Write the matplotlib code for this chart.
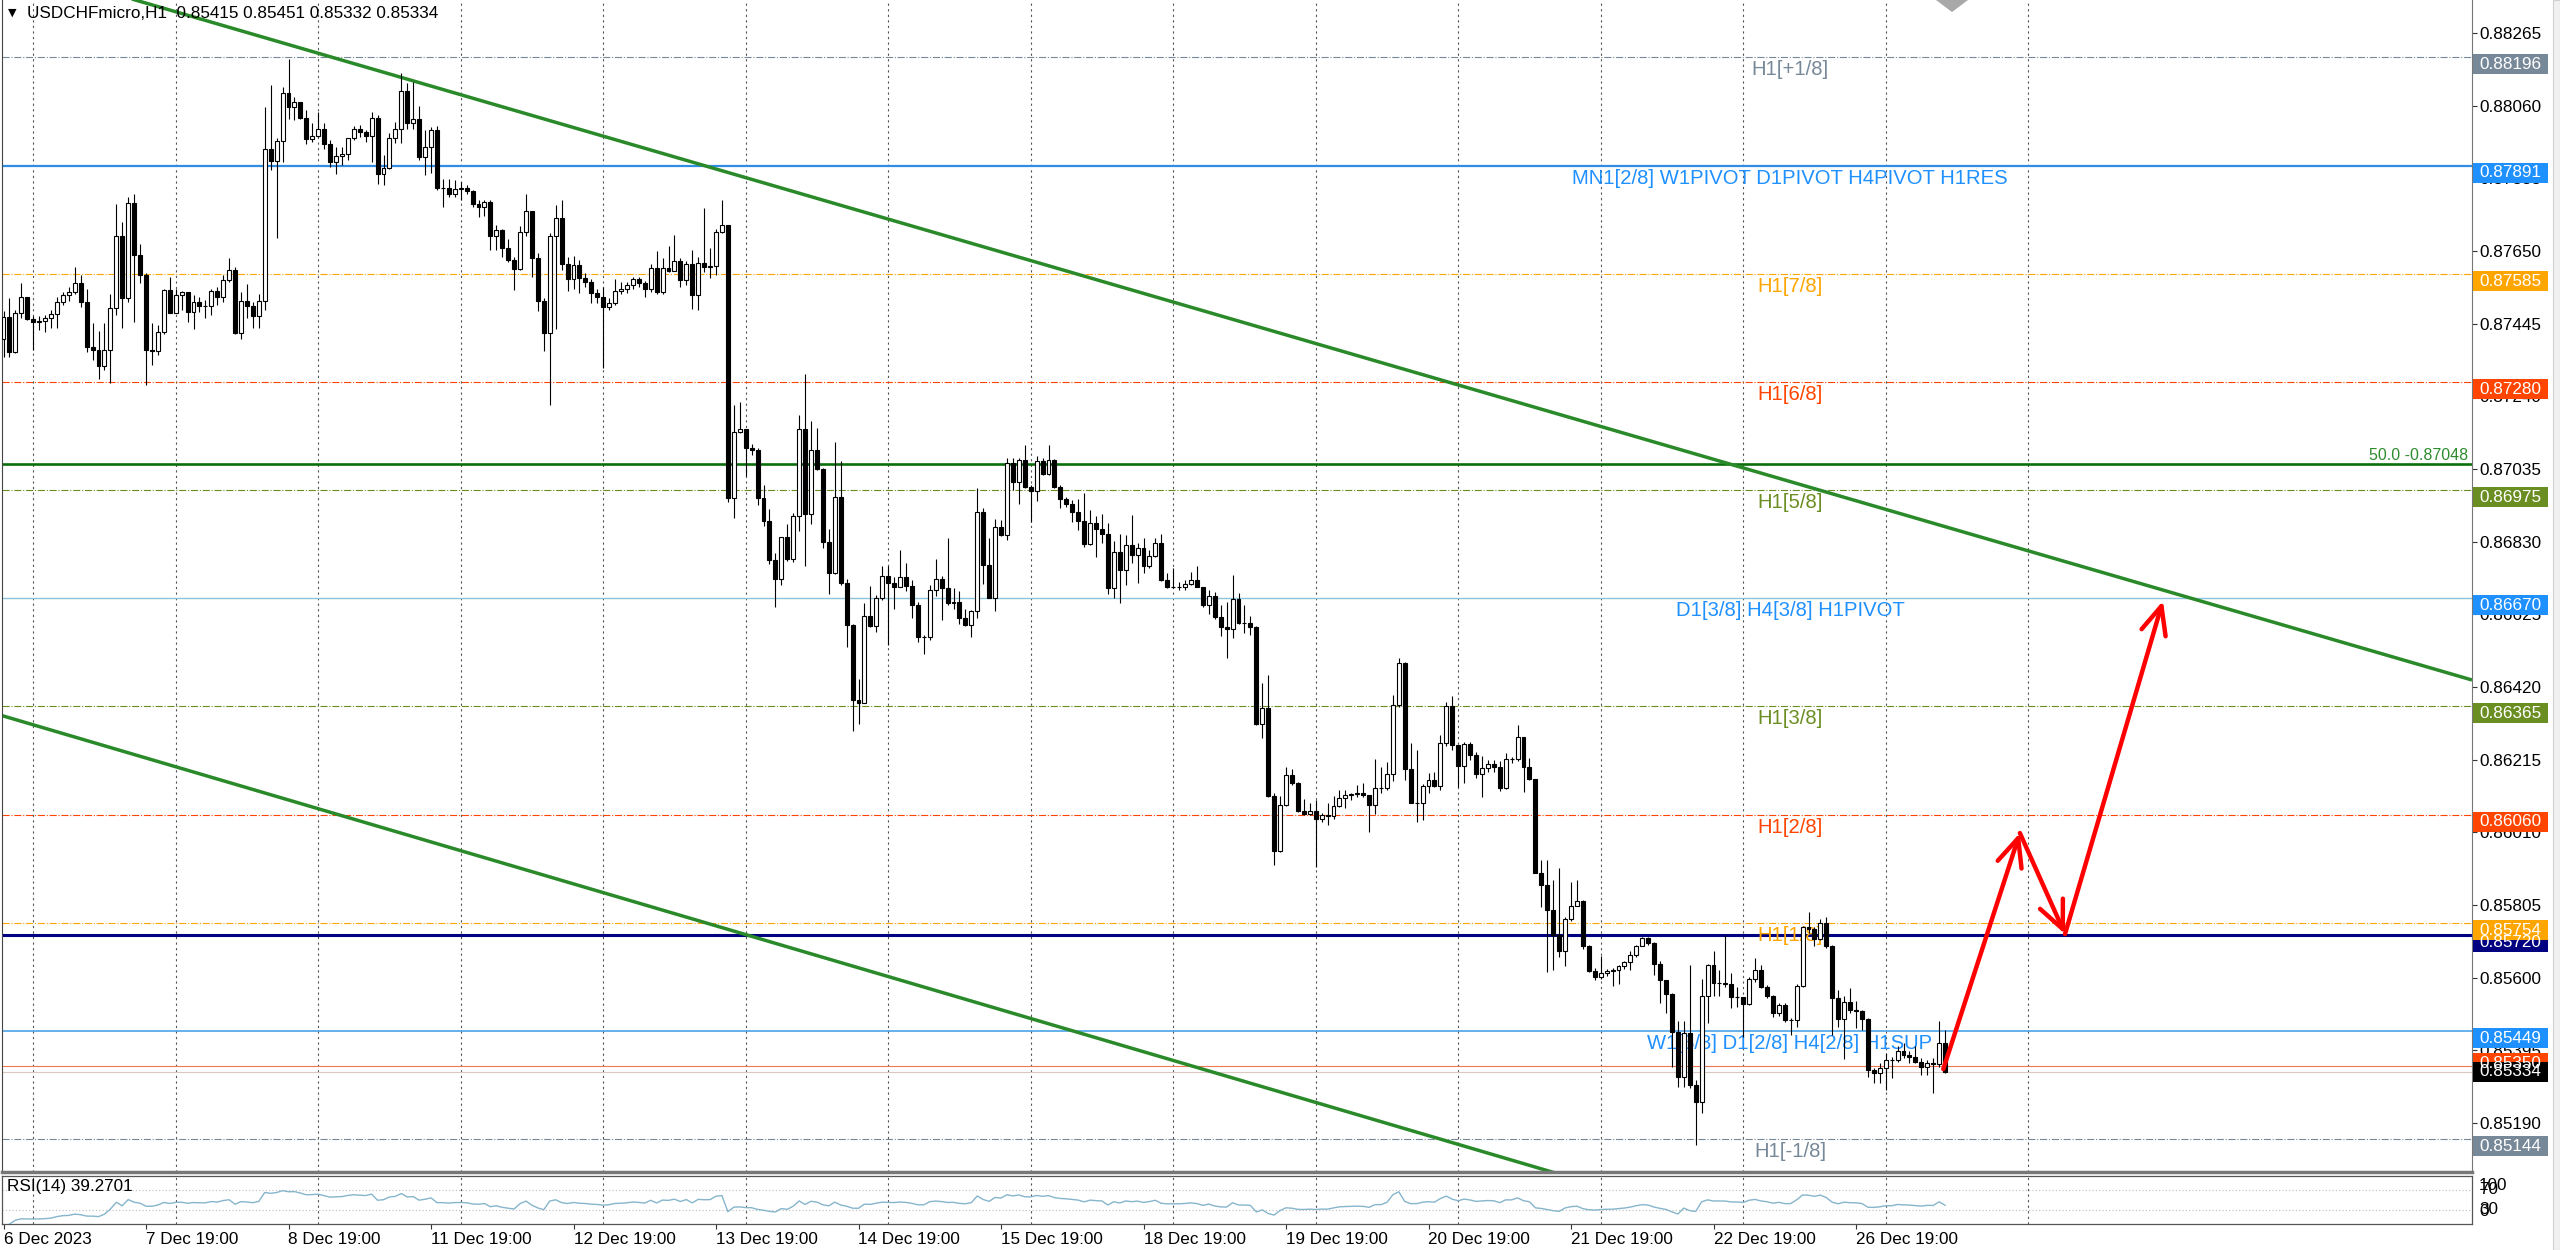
import matplotlib
matplotlib.use('Agg')
import matplotlib.pyplot as plt
import matplotlib.transforms as mtransforms
from matplotlib.patches import Rectangle, Polygon
import numpy as np

plt.rcParams['font.family'] = ['Liberation Sans', 'DejaVu Sans']

# ---------------- data ----------------
header = "USDCHFmicro,H1  0.85415 0.85451 0.85332 0.85334"
rsi_caption = "RSI(14) 39.2701"

first_open = 0.87403
closes = [
    0.87464, 0.87366, 0.87474, 0.87519, 0.87457, 0.87450, 0.87453, 0.87460, 0.87472, 0.87507,
    0.87527, 0.87533, 0.87560, 0.87505, 0.87378, 0.87372, 0.87325, 0.87372, 0.87488, 0.87693,
    0.87516, 0.87786, 0.87638, 0.87582, 0.87372, 0.87369, 0.87422, 0.87540, 0.87476, 0.87526,
    0.87533, 0.87479, 0.87507, 0.87495, 0.87495, 0.87538, 0.87519, 0.87568, 0.87596, 0.87419,
    0.87509, 0.87495, 0.87466, 0.87509, 0.87939, 0.87905, 0.87961, 0.88095, 0.88057, 0.88069,
    0.88024, 0.87965, 0.87975, 0.87993, 0.87951, 0.87902, 0.87918, 0.87925, 0.87970, 0.87993,
    0.87985, 0.87975, 0.88024, 0.87867, 0.87883, 0.87970, 0.87993, 0.88101, 0.88010, 0.88021,
    0.87914, 0.87944, 0.87991, 0.87827, 0.87827, 0.87811, 0.87825, 0.87827, 0.87819, 0.87784,
    0.87775, 0.87789, 0.87692, 0.87709, 0.87659, 0.87626, 0.87599, 0.87704, 0.87764, 0.87630,
    0.87510, 0.87419, 0.87691, 0.87743, 0.87614, 0.87570, 0.87610, 0.87573, 0.87563, 0.87532,
    0.87521, 0.87492, 0.87504, 0.87536, 0.87542, 0.87553, 0.87570, 0.87560, 0.87542, 0.87602,
    0.87534, 0.87602, 0.87594, 0.87623, 0.87567, 0.87612, 0.87525, 0.87615, 0.87605, 0.87609,
    0.87704, 0.87722, 0.86954, 0.87139, 0.87149, 0.87093, 0.87090, 0.86954, 0.86888, 0.86779,
    0.86724, 0.86842, 0.86781, 0.86901, 0.87147, 0.86907, 0.87090, 0.87034, 0.86828, 0.86741,
    0.86957, 0.86713, 0.86595, 0.86382, 0.86374, 0.86619, 0.86593, 0.86671, 0.86734, 0.86713,
    0.86703, 0.86731, 0.86706, 0.86651, 0.86560, 0.86560, 0.86695, 0.86724, 0.86698, 0.86656,
    0.86661, 0.86614, 0.86595, 0.86633, 0.86915, 0.86764, 0.86672, 0.86872, 0.86849, 0.87051,
    0.86997, 0.87060, 0.86983, 0.86974, 0.87058, 0.87022, 0.87060, 0.86985, 0.86950, 0.86936,
    0.86914, 0.86889, 0.86823, 0.86882, 0.86865, 0.86853, 0.86698, 0.86802, 0.86750, 0.86820,
    0.86792, 0.86811, 0.86762, 0.86789, 0.86827, 0.86722, 0.86701, 0.86703, 0.86701, 0.86710,
    0.86723, 0.86703, 0.86651, 0.86676, 0.86618, 0.86590, 0.86585, 0.86667, 0.86601, 0.86601,
    0.86590, 0.86317, 0.86362, 0.86112, 0.85957, 0.86087, 0.86172, 0.86148, 0.86071, 0.86061,
    0.86071, 0.86049, 0.86059, 0.86056, 0.86084, 0.86108, 0.86115, 0.86118, 0.86122, 0.86115,
    0.86087, 0.86134, 0.86134, 0.86175, 0.86369, 0.86488, 0.86190, 0.86093, 0.86093, 0.86140,
    0.86157, 0.86140, 0.86263, 0.86366, 0.86256, 0.86197, 0.86259, 0.86228, 0.86175, 0.86191,
    0.86203, 0.86194, 0.86134, 0.86216, 0.86216, 0.86278, 0.86194, 0.86160, 0.85896, 0.85862,
    0.85791, 0.85721, 0.85674, 0.85765, 0.85802, 0.85815, 0.85688, 0.85620, 0.85601, 0.85614,
    0.85620, 0.85622, 0.85633, 0.85645, 0.85664, 0.85690, 0.85712, 0.85697, 0.85638, 0.85594,
    0.85554, 0.85448, 0.85321, 0.85445, 0.85298, 0.85250, 0.85549, 0.85636, 0.85584, 0.85586,
    0.85582, 0.85545, 0.85545, 0.85526, 0.85596, 0.85622, 0.85573, 0.85549, 0.85500, 0.85523,
    0.85481, 0.85481, 0.85577, 0.85742, 0.85737, 0.85708, 0.85754, 0.85688, 0.85542, 0.85483,
    0.85530, 0.85510, 0.85507, 0.85483, 0.85340, 0.85330, 0.85344, 0.85368, 0.85368, 0.85394,
    0.85382, 0.85377, 0.85363, 0.85347, 0.85360, 0.85357, 0.85415, 0.85334,
]
highs = [
    0.87480, 0.87516, 0.87483, 0.87559, 0.87521, 0.87466, 0.87466, 0.87469, 0.87483, 0.87521,
    0.87533, 0.87549, 0.87606, 0.87582, 0.87544, 0.87446, 0.87424, 0.87446, 0.87530, 0.87782,
    0.87732, 0.87801, 0.87812, 0.87671, 0.87587, 0.87446, 0.87441, 0.87544, 0.87577, 0.87544,
    0.87538, 0.87535, 0.87526, 0.87521, 0.87512, 0.87544, 0.87549, 0.87582, 0.87629, 0.87606,
    0.87535, 0.87557, 0.87505, 0.87530, 0.88057, 0.88118, 0.87968, 0.88113, 0.88193, 0.88085,
    0.88071, 0.88048, 0.88010, 0.88043, 0.88010, 0.87963, 0.87944, 0.87944, 0.87970, 0.88002,
    0.88005, 0.87991, 0.88043, 0.88033, 0.87921, 0.87984, 0.88015, 0.88151, 0.88125, 0.88127,
    0.88059, 0.87991, 0.87999, 0.88002, 0.87852, 0.87852, 0.87850, 0.87845, 0.87836, 0.87822,
    0.87794, 0.87794, 0.87794, 0.87723, 0.87711, 0.87685, 0.87633, 0.87720, 0.87811, 0.87764,
    0.87643, 0.87518, 0.87701, 0.87779, 0.87795, 0.87633, 0.87636, 0.87626, 0.87588, 0.87570,
    0.87544, 0.87549, 0.87518, 0.87570, 0.87563, 0.87562, 0.87576, 0.87576, 0.87565, 0.87612,
    0.87651, 0.87630, 0.87664, 0.87696, 0.87630, 0.87623, 0.87654, 0.87633, 0.87772, 0.87659,
    0.87711, 0.87793, 0.87706, 0.87215, 0.87225, 0.87145, 0.87105, 0.87095, 0.86990, 0.86922,
    0.86797, 0.86844, 0.86880, 0.86912, 0.87186, 0.87304, 0.87170, 0.87152, 0.87037, 0.86865,
    0.87110, 0.87058, 0.86724, 0.86598, 0.86442, 0.86656, 0.86706, 0.86679, 0.86760, 0.86760,
    0.86731, 0.86807, 0.86769, 0.86721, 0.86661, 0.86567, 0.86708, 0.86781, 0.86734, 0.86839,
    0.86698, 0.86692, 0.86640, 0.86637, 0.86980, 0.86924, 0.86839, 0.86894, 0.86891, 0.87065,
    0.87065, 0.87065, 0.87102, 0.86990, 0.87071, 0.87065, 0.87102, 0.87062, 0.86990, 0.86955,
    0.86947, 0.86949, 0.86968, 0.86919, 0.86902, 0.86908, 0.86882, 0.86833, 0.86853, 0.86849,
    0.86905, 0.86825, 0.86839, 0.86806, 0.86839, 0.86853, 0.86742, 0.86755, 0.86717, 0.86723,
    0.86745, 0.86762, 0.86703, 0.86695, 0.86689, 0.86651, 0.86660, 0.86736, 0.86684, 0.86651,
    0.86620, 0.86592, 0.86430, 0.86454, 0.86120, 0.86112, 0.86194, 0.86190, 0.86153, 0.86103,
    0.86092, 0.86101, 0.86065, 0.86092, 0.86112, 0.86129, 0.86129, 0.86122, 0.86143, 0.86150,
    0.86115, 0.86216, 0.86195, 0.86209, 0.86397, 0.86501, 0.86491, 0.86261, 0.86242, 0.86146,
    0.86176, 0.86181, 0.86284, 0.86378, 0.86394, 0.86251, 0.86266, 0.86266, 0.86238, 0.86226,
    0.86214, 0.86214, 0.86210, 0.86233, 0.86222, 0.86313, 0.86280, 0.86219, 0.86160, 0.85932,
    0.85932, 0.85876, 0.85909, 0.85772, 0.85871, 0.85876, 0.85819, 0.85692, 0.85627, 0.85661,
    0.85624, 0.85627, 0.85636, 0.85648, 0.85676, 0.85692, 0.85716, 0.85714, 0.85702, 0.85648,
    0.85594, 0.85556, 0.85479, 0.85479, 0.85636, 0.85312, 0.85596, 0.85639, 0.85674, 0.85622,
    0.85721, 0.85612, 0.85575, 0.85533, 0.85603, 0.85655, 0.85636, 0.85580, 0.85551, 0.85528,
    0.85528, 0.85485, 0.85582, 0.85746, 0.85786, 0.85742, 0.85765, 0.85772, 0.85692, 0.85564,
    0.85547, 0.85570, 0.85533, 0.85509, 0.85485, 0.85344, 0.85359, 0.85387, 0.85377, 0.85406,
    0.85415, 0.85394, 0.85406, 0.85373, 0.85368, 0.85373, 0.85479, 0.85451,
]
lows = [
    0.87352, 0.87352, 0.87361, 0.87460, 0.87455, 0.87370, 0.87427, 0.87422, 0.87434, 0.87432,
    0.87499, 0.87510, 0.87530, 0.87493, 0.87366, 0.87342, 0.87290, 0.87314, 0.87278, 0.87469,
    0.87432, 0.87507, 0.87450, 0.87560, 0.87272, 0.87328, 0.87356, 0.87417, 0.87474, 0.87479,
    0.87483, 0.87450, 0.87429, 0.87479, 0.87462, 0.87469, 0.87497, 0.87507, 0.87563, 0.87417,
    0.87403, 0.87460, 0.87434, 0.87432, 0.87483, 0.87878, 0.87686, 0.87902, 0.88021, 0.88019,
    0.88021, 0.87952, 0.87958, 0.87972, 0.87939, 0.87888, 0.87866, 0.87892, 0.87908, 0.87963,
    0.87972, 0.87958, 0.87902, 0.87839, 0.87836, 0.87880, 0.87954, 0.87955, 0.87993, 0.87994,
    0.87906, 0.87864, 0.87869, 0.87822, 0.87775, 0.87803, 0.87803, 0.87794, 0.87812, 0.87775,
    0.87747, 0.87748, 0.87654, 0.87654, 0.87633, 0.87619, 0.87539, 0.87596, 0.87691, 0.87576,
    0.87481, 0.87367, 0.87215, 0.87429, 0.87596, 0.87536, 0.87544, 0.87532, 0.87549, 0.87502,
    0.87502, 0.87319, 0.87484, 0.87497, 0.87530, 0.87532, 0.87544, 0.87549, 0.87521, 0.87534,
    0.87529, 0.87529, 0.87591, 0.87594, 0.87549, 0.87555, 0.87487, 0.87484, 0.87591, 0.87573,
    0.87581, 0.87701, 0.86943, 0.86896, 0.87137, 0.87016, 0.87074, 0.86933, 0.86875, 0.86766,
    0.86647, 0.86708, 0.86776, 0.86773, 0.86860, 0.86760, 0.86880, 0.87032, 0.86813, 0.86682,
    0.86739, 0.86708, 0.86532, 0.86295, 0.86316, 0.86374, 0.86588, 0.86574, 0.86666, 0.86539,
    0.86640, 0.86708, 0.86692, 0.86614, 0.86546, 0.86512, 0.86553, 0.86677, 0.86609, 0.86651,
    0.86640, 0.86598, 0.86591, 0.86562, 0.86614, 0.86710, 0.86670, 0.86635, 0.86846, 0.86834,
    0.86976, 0.86936, 0.86980, 0.86886, 0.86945, 0.87018, 0.87018, 0.86980, 0.86924, 0.86928,
    0.86886, 0.86863, 0.86814, 0.86820, 0.86787, 0.86825, 0.86682, 0.86670, 0.86656, 0.86708,
    0.86769, 0.86712, 0.86742, 0.86755, 0.86787, 0.86720, 0.86698, 0.86698, 0.86695, 0.86693,
    0.86708, 0.86701, 0.86646, 0.86625, 0.86613, 0.86564, 0.86503, 0.86557, 0.86599, 0.86571,
    0.86566, 0.86313, 0.86275, 0.86110, 0.85918, 0.85955, 0.86084, 0.86143, 0.86068, 0.86059,
    0.86059, 0.85912, 0.86040, 0.86030, 0.86049, 0.86082, 0.86080, 0.86101, 0.86110, 0.86110,
    0.86012, 0.86063, 0.86122, 0.86129, 0.86155, 0.86364, 0.86159, 0.86092, 0.86040, 0.86045,
    0.86120, 0.86139, 0.86129, 0.86253, 0.86242, 0.86139, 0.86149, 0.86214, 0.86163, 0.86111,
    0.86181, 0.86179, 0.86128, 0.86132, 0.86205, 0.86210, 0.86125, 0.86158, 0.85895, 0.85798,
    0.85617, 0.85622, 0.85659, 0.85634, 0.85761, 0.85801, 0.85682, 0.85617, 0.85594, 0.85596,
    0.85605, 0.85576, 0.85582, 0.85624, 0.85622, 0.85659, 0.85688, 0.85692, 0.85608, 0.85528,
    0.85500, 0.85349, 0.85291, 0.85291, 0.85288, 0.85128, 0.85217, 0.85471, 0.85547, 0.85547,
    0.85575, 0.85514, 0.85518, 0.85434, 0.85523, 0.85589, 0.85570, 0.85542, 0.85488, 0.85492,
    0.85476, 0.85438, 0.85461, 0.85573, 0.85725, 0.85688, 0.85706, 0.85683, 0.85438, 0.85462,
    0.85370, 0.85500, 0.85457, 0.85453, 0.85321, 0.85302, 0.85302, 0.85283, 0.85316, 0.85363,
    0.85373, 0.85360, 0.85359, 0.85326, 0.85326, 0.85276, 0.85349, 0.85332,
]

date_labels = ["6 Dec 2023", "7 Dec 19:00", "8 Dec 19:00", "11 Dec 19:00", "12 Dec 19:00",
               "13 Dec 19:00", "14 Dec 19:00", "15 Dec 19:00", "18 Dec 19:00", "19 Dec 19:00",
               "20 Dec 19:00", "21 Dec 19:00", "22 Dec 19:00", "26 Dec 19:00"]
price_ticks = [0.88265, 0.88060, 0.87855, 0.87650, 0.87445, 0.87240, 0.87035, 0.86830,
               0.86625, 0.86420, 0.86215, 0.86010, 0.85805, 0.85600, 0.85395, 0.85190]

# Murrey / pivot levels
level_prices = [0.88196, 0.87891, 0.87585, 0.87280, 0.86975, 0.86670, 0.86365, 0.86060,
                0.85754, 0.85449, 0.85144]
level_texts = ["H1[+1/8]", "MN1[2/8] W1PIVOT D1PIVOT H4PIVOT H1RES", "H1[7/8]", "H1[6/8]",
               "H1[5/8]", "D1[3/8] H4[3/8] H1PIVOT", "H1[3/8]", "H1[2/8]", "H1[1/8]",
               "W1[3/8] D1[2/8] H4[2/8] H1SUP", "H1[-1/8]"]
fib_price = 0.87048
fib_text = "50.0 -0.87048"
support_price = 0.85720
extra_price = 0.85350
bid_price = 0.85334

# trend channel anchors (bar index, price)
upper_trend = [(45.4, 0.88245), (415.7, 0.86440)]
lower_trend = [(-0.6, 0.86341), (241.9, 0.85145)]
# hand-drawn forecast path (bar index, price)
forecast = [(326.7, 0.85342), (339.6, 0.86008), (347.2, 0.85723), (363.7, 0.86663)]

# ---------------- styles ----------------
GRAY = '#778899'
BLUE = '#1E90FF'
ORANGE = '#FFA500'
ORED = '#FF4500'
OLIVE = '#6B8E23'
level_colors = [GRAY, BLUE, ORANGE, ORED, OLIVE, BLUE, OLIVE, ORED, ORANGE, BLUE, GRAY]
line_colors = [GRAY, '#2f8de4', ORANGE, ORED, OLIVE, '#8ec3df', OLIVE, ORED, ORANGE, '#3a9be5', GRAY]
line_styles = ['-.', '-', '-.', '-.', '-.', '-', '-.', '-.', '-.', '-', '-.']
line_widths = [0.8, 1.6, 0.8, 0.8, 0.8, 1.0, 0.8, 0.8, 0.8, 1.1, 0.8]

W, H = 2560, 1250
PPU = 35447.0           # pixels per price unit
BAR = 5.9375            # pixels per bar
X0 = 3.5                # pixel of bar 0
L_PX, R_PX = 2, 2472
MAIN_BOT = 1172
RSI_TOP, RSI_BOT = 1176, 1224
FS = 12.3

fig = plt.figure(figsize=(W / 100, H / 100), dpi=100)
fig.patch.set_facecolor('white')

ax = fig.add_axes([L_PX / W, (H - MAIN_BOT) / H, (R_PX - L_PX) / W, MAIN_BOT / H])
axr = fig.add_axes([L_PX / W, (H - RSI_BOT) / H, (R_PX - L_PX) / W, (RSI_BOT - RSI_TOP) / H])

xlim = ((L_PX - X0) / BAR, (R_PX - X0) / BAR)
ylim = (0.88265 - (MAIN_BOT - 33) / PPU, 0.88265 + 33 / PPU)
ax.set_xlim(xlim)
ax.set_ylim(ylim)
axr.set_xlim(xlim)
axr.set_ylim(0, 100)

n = len(closes)
x = np.arange(n)
opens = np.array([first_open] + closes[:-1])
c = np.array(closes)
hi = np.maximum(np.array(highs), np.maximum(opens, c))
lo = np.minimum(np.array(lows), np.minimum(opens, c))

# vertical day grid (only up to the day after the last bar)
for k in range(15):
    gx = 5 + 24 * k
    for a in (ax, axr):
        a.axvline(gx, color='#555555', lw=0.8, ls=(0, (2, 3)), zorder=0.5)

# level lines + labels
label_x = (1790 - X0) / BAR
for p, t, tc, lc, ls, lw in zip(level_prices, level_texts, level_colors, line_colors,
                                 line_styles, line_widths):
    ax.axhline(p, color=lc, ls=ls, lw=lw, zorder=1)
    ax.annotate(t, xy=(label_x, p), xytext=(0, -3), textcoords='offset pixels',
                ha='center', va='top', color=tc, fontsize=14.6, zorder=1.5)

ax.axhline(fib_price, color='#0b6e0b', lw=1.9, zorder=1)
ax.annotate(fib_text, xy=(1.0, fib_price), xycoords=('axes fraction', 'data'),
            xytext=(-4, 1), textcoords='offset pixels', ha='right', va='bottom',
            color='#2e8b2e', fontsize=11.5, zorder=1.5)
ax.axhline(support_price, color='#000080', lw=2.2, zorder=1)
ax.axhline(extra_price, color='#f07850', lw=0.8, zorder=1)
ax.axhline(bid_price, color='#d8c8c0', lw=0.8, zorder=1)

# trend channel (rays, clipped by the panel)
for (xa, ya), (xb, yb) in (upper_trend, lower_trend):
    slope = (yb - ya) / (xb - xa)
    xs = np.array([xlim[0], xlim[1]])
    ax.plot(xs, ya + slope * (xs - xa), color='#2a8a2a', lw=2.5, zorder=2,
            solid_capstyle='butt')

# candles
ax.vlines(x, lo, hi, color='black', lw=0.8, zorder=3)
body_lo = np.minimum(opens, c)
body_h = np.maximum(np.abs(c - opens), 0.000008)
face = ['white' if cc > oo else 'black' for oo, cc in zip(opens, c)]
ax.bar(x, body_h, bottom=body_lo, width=0.66, color=face, edgecolor='black',
       linewidth=0.8, zorder=4)

# forecast arrows
for (xa, ya), (xb, yb) in zip(forecast[:-1], forecast[1:]):
    ax.annotate('', xy=(xb, yb), xytext=(xa, ya),
                arrowprops=dict(arrowstyle='->,head_length=1.0,head_width=0.45',
                                color='#ff0000', lw=3.2, mutation_scale=20,
                                shrinkA=0, shrinkB=0), zorder=6)

# price axis
ax.yaxis.tick_right()
ax.set_yticks(price_ticks)
ax.set_yticklabels([f"{p:.5f}" for p in price_ticks])
ax.tick_params(axis='y', length=3.6, width=0.8, pad=1.5, labelsize=FS, color='#333333')
ax.set_xticks([])
ax.spines['top'].set_visible(False)
ax.spines['left'].set_color('#444444')
ax.spines['right'].set_color('#777777')
ax.spines['bottom'].set_color('#777777')
ax.spines['bottom'].set_linewidth(2.5)

# price tags on the axis
tr = mtransforms.blended_transform_factory(ax.transAxes, ax.transData)
bx0 = (2473 - L_PX) / (R_PX - L_PX)
bx1 = (2548 - L_PX) / (R_PX - L_PX)
tx = (2479 - L_PX) / (R_PX - L_PX)


def tag(price, color, dy):
    yc = price - dy / PPU
    hgt = 20 / PPU
    ax.add_patch(Rectangle((bx0, yc - hgt / 2), bx1 - bx0, hgt, transform=tr,
                           facecolor=color, edgecolor='none', clip_on=False, zorder=5))
    ax.text(tx, yc, f"{price:.5f}", transform=tr, color='white', fontsize=FS,
            ha='left', va='center', clip_on=False, zorder=6)


tag(support_price, '#000080', 7)
for p, col in zip(level_prices, level_colors):
    tag(p, col, 7)
tag(extra_price, ORED, -3)
tag(bid_price, '#000000', 0)

# RSI panel
delta = np.diff(c)
gain = np.where(delta > 0, delta, 0.0)
loss = np.where(delta < 0, -delta, 0.0)
ag, al = gain[0], loss[0]
rsi = [np.nan]
for g, l_ in zip(gain, loss):
    ag = (ag * 13 + g) / 14
    al = (al * 13 + l_) / 14
    rsi.append(100 - 100 / (1 + ag / al) if al > 0 else 100)
axr.plot(x, rsi, color='#86b5cc', lw=1.0, zorder=3)
for lv in (70, 30):
    axr.axhline(lv, color='#bbbbbb', lw=0.8, ls=(0, (1, 2)), zorder=1)
axr.text(0.002, 0.93, rsi_caption, transform=axr.transAxes, fontsize=FS, va='top', ha='left')
axr.set_yticks([])
axr.set_xticks([24 * k for k in range(len(date_labels))])
axr.set_xticklabels(date_labels)
for lbl in axr.get_xticklabels():
    lbl.set_ha('left')
axr.tick_params(axis='x', length=3.6, width=0.8, pad=2.2, labelsize=FS, color='#333333')
for s in axr.spines.values():
    s.set_color('#555555')
    s.set_linewidth(0.9)

trr = mtransforms.blended_transform_factory(axr.transAxes, fig.transFigure)
for txt, py in (("100", 1186), ("70", 1190), ("30", 1209), ("0", 1211)):
    axr.text(tx, 1 - py / H, txt, transform=trr, fontsize=FS, ha='left', va='center',
             clip_on=False)

# header & chart-shift marker
fig.text(8 / W, 1 - 13 / H, "\u25bc", fontsize=8, va='center', ha='left',
         family=['DejaVu Sans'])
fig.text(27 / W, 1 - 13 / H, header, fontsize=FS, va='center', ha='left')
fig.patches.append(Polygon([(1936 / W, 1.0), (1968 / W, 1.0), (1952 / W, 1 - 12 / H)],
                           closed=True, transform=fig.transFigure, facecolor='#a8a8a8',
                           edgecolor='none'))
fig.patches.append(Rectangle((2553 / W, 0), 7 / W, 1, transform=fig.transFigure,
                             facecolor='#f0f0f0', edgecolor='#d0d0d0', lw=0.8))

fig.savefig('out.png', dpi=100)
